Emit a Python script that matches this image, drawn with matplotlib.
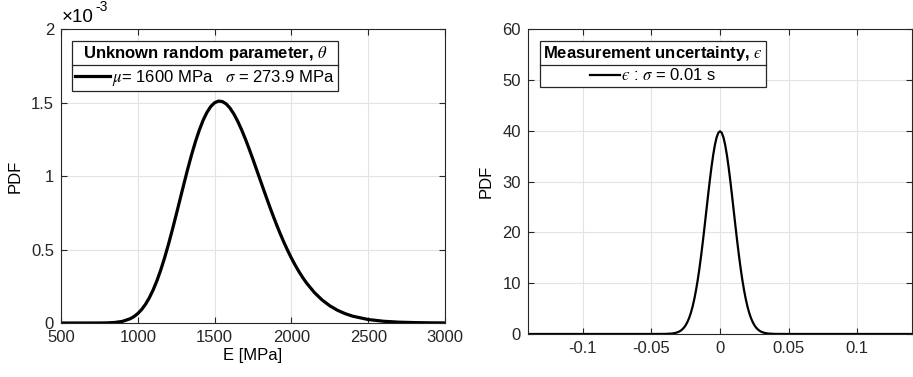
import matplotlib.pyplot as plt
from matplotlib.lines import Line2D

plt.rcParams['font.family'] = ['Liberation Sans', 'DejaVu Sans']
plt.rcParams['mathtext.fontset'] = 'stix'
plt.rcParams['axes.unicode_minus'] = False

# --- Data ---
E_mpa = [500, 600, 700, 750, 800, 850, 900, 950, 975, 1000, 1025, 1050, 1075, 1100,
         1125, 1150, 1175, 1200, 1225, 1250, 1275, 1300, 1325, 1350, 1375, 1400, 1425,
         1450, 1475, 1500, 1525, 1550, 1575, 1600, 1625, 1650, 1675, 1700, 1725, 1750,
         1775, 1800, 1825, 1850, 1875, 1900, 1925, 1950, 1975, 2000, 2025, 2050, 2075,
         2100, 2150, 2200, 2250, 2300, 2350, 2400, 2500, 2600, 2700, 2800, 2900, 3000]
pdf_E = [0.0, 0.0, 0.00004, 0.0002, 0.001, 0.0037, 0.0112, 0.0288, 0.0438, 0.0644,
         0.0918, 0.1271, 0.1714, 0.2253, 0.2888, 0.3625, 0.4453, 0.5366, 0.6342, 0.7365,
         0.8411, 0.9456, 1.0476, 1.1440, 1.2325, 1.3112, 1.3785, 1.4326, 1.4728, 1.4985,
         1.5097, 1.5070, 1.4909, 1.4623, 1.4228, 1.3738, 1.3165, 1.2531, 1.1845, 1.1126,
         1.0386, 0.9642, 0.8899, 0.8170, 0.7457, 0.6779, 0.6130, 0.5520, 0.4951, 0.4419,
         0.3931, 0.3482, 0.3074, 0.2703, 0.2071, 0.1567, 0.1172, 0.0867, 0.0636, 0.0462,
         0.0238, 0.0119, 0.0058, 0.0028, 0.0013, 0.0006]  # x 1e-3

eps = [-0.14, -0.05, -0.04, -0.035, -0.0325, -0.03, -0.02875, -0.0275, -0.02625, -0.025,
       -0.02375, -0.0225, -0.02125, -0.02, -0.01875, -0.0175, -0.01625, -0.015, -0.01375,
       -0.0125, -0.01125, -0.01, -0.00875, -0.0075, -0.00625, -0.005, -0.00375, -0.0025,
       -0.00125, 0.0, 0.00125, 0.0025, 0.00375, 0.005, 0.00625, 0.0075, 0.00875, 0.01,
       0.01125, 0.0125, 0.01375, 0.015, 0.01625, 0.0175, 0.01875, 0.02, 0.02125, 0.0225,
       0.02375, 0.025, 0.02625, 0.0275, 0.02875, 0.03, 0.0325, 0.035, 0.04, 0.05, 0.14]
pdf_eps = [0.0, 0.0, 0.013, 0.087, 0.203, 0.443, 0.64, 0.91, 1.27, 1.75, 2.38, 3.17,
           4.17, 5.40, 6.88, 8.63, 10.65, 12.95, 15.50, 18.26, 21.19, 24.20, 27.21, 30.11,
           32.82, 35.21, 37.19, 38.67, 39.58, 39.89, 39.58, 38.67, 37.19, 35.21, 32.82,
           30.11, 27.21, 24.20, 21.19, 18.26, 15.50, 12.95, 10.65, 8.63, 6.88, 5.40, 4.17,
           3.17, 2.38, 1.75, 1.27, 0.91, 0.64, 0.443, 0.203, 0.087, 0.013, 0.0, 0.0]

left_xticks = [500, 1000, 1500, 2000, 2500, 3000]
left_yticks = [0, 0.5, 1, 1.5, 2]
left_yticklabels = ['0', '0.5', '1', '1.5', '2']
right_xticks = [-0.1, -0.05, 0, 0.05, 0.1]
right_xticklabels = ['-0.1', '-0.05', '0', '0.05', '0.1']
right_yticks = [0, 10, 20, 30, 40, 50, 60]

spine_c = '#262626'
grid_c = '#e3e3e3'

fig = plt.figure(figsize=(9.13, 3.77), dpi=100)
ax1 = fig.add_axes([0.0668, 0.1432, 0.4206, 0.7798])
ax2 = fig.add_axes([0.5783, 0.1141, 0.4207, 0.8089])


def style(ax):
    ax.grid(True, color=grid_c, linewidth=0.8)
    ax.set_axisbelow(True)
    for s in ax.spines.values():
        s.set_color(spine_c)
        s.set_linewidth(0.8)
    ax.tick_params(direction='in', top=True, right=True, length=4,
                   labelsize=12, colors=spine_c, pad=5)


# --- Left panel ---
ax1.plot(E_mpa, pdf_E, color='black', linewidth=2.3,
         label=r'$\mu$= 1600 MPa   $\sigma$ = 273.9 MPa')
ax1.set_xlim(500, 3000)
ax1.set_ylim(0, 2)
ax1.set_xticks(left_xticks)
ax1.set_yticks(left_yticks)
ax1.set_yticklabels(left_yticklabels)
style(ax1)
ax1.set_xlabel('E [MPa]', fontsize=12, labelpad=2)
ax1.set_ylabel('PDF', fontsize=12, labelpad=6)
ax1.text(0.002, 1.012, '×10', transform=ax1.transAxes, fontsize=13.5, ha='left', va='bottom')
ax1.text(0.09, 1.05, '-3', transform=ax1.transAxes, fontsize=10, ha='left', va='bottom')

# --- Right panel ---
ax2.plot(eps, pdf_eps, color='black', linewidth=1.6,
         label=r'$ϵ$ : $\sigma$ = 0.01 s')
ax2.set_xlim(-0.14, 0.14)
ax2.set_ylim(0, 60)
ax2.set_xticks(right_xticks)
ax2.set_xticklabels(right_xticklabels)
ax2.set_yticks(right_yticks)
style(ax2)
ax2.set_ylabel('PDF', fontsize=12, labelpad=6)

legs = []
for ax, title, anchor, hl in [
        (ax1, r'Unknown random parameter, $\theta$', (0.0286, 0.959), 2.1),
        (ax2, r'Measurement uncertainty, $ϵ$', (0.031, 0.961), 1.8)]:
    leg = ax.legend(loc='upper left', bbox_to_anchor=anchor, borderaxespad=0,
                    fontsize=12, title=title, title_fontproperties={'size': 12, 'weight': 'bold'},
                    fancybox=False, framealpha=1, edgecolor=spine_c, alignment='center',
                    handlelength=hl, handletextpad=0.1, borderpad=0.2, labelspacing=0.25)
    leg.get_frame().set_linewidth(0.9)
    legs.append(leg)

# separator line between legend title and entry (MATLAB style)
fig.canvas.draw()
r = fig.canvas.get_renderer()
for leg in legs:
    fb = leg.get_frame().get_window_extent(r)
    tb = leg.get_title().get_window_extent(r)
    ysep = (tb.y0 - 2) / fig.bbox.height
    fig.add_artist(Line2D([fb.x0 / fig.bbox.width, fb.x1 / fig.bbox.width], [ysep, ysep],
                          color=spine_c, linewidth=0.9, transform=fig.transFigure))

fig.savefig('out.png', dpi=100)
